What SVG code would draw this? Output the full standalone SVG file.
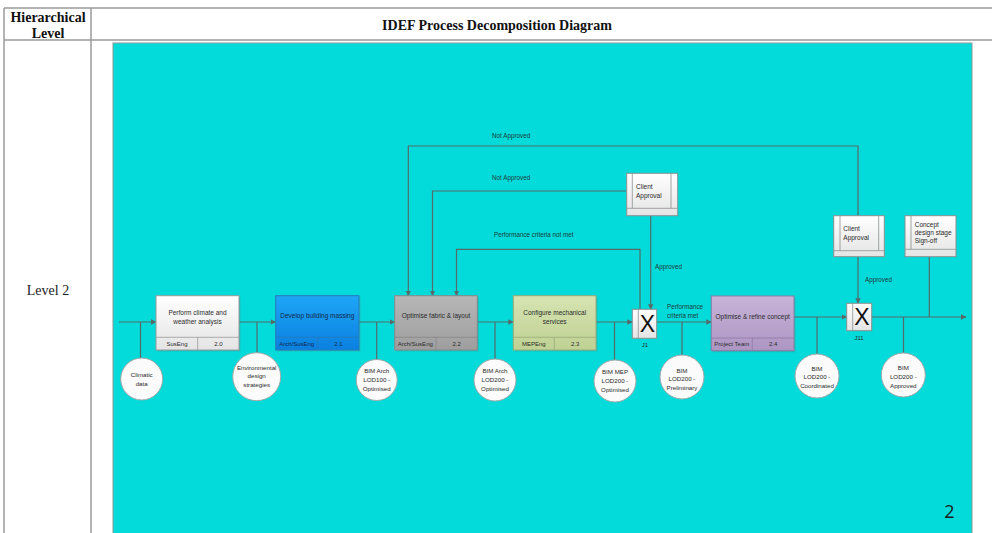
<svg xmlns="http://www.w3.org/2000/svg" width="992" height="533" viewBox="0 0 992 533">
<style>
.tbl{stroke:#9a9a9a;stroke-width:1.5;fill:none}
.hdr{font-family:"Liberation Serif","Times New Roman",serif;font-weight:bold;font-size:14px;fill:#111;text-anchor:middle}
.lvl{font-family:"Liberation Serif","Times New Roman",serif;font-size:14px;fill:#222;text-anchor:middle}
.t{font-family:"Liberation Sans",Arial,sans-serif;font-size:6.5px;fill:#2a2a2a}
.tc{font-family:"Liberation Sans",Arial,sans-serif;font-size:6.5px;fill:#2a2a2a;text-anchor:middle}
.cc{font-family:"Liberation Sans",Arial,sans-serif;font-size:6.2px;fill:#2a2a2a;text-anchor:middle}
.ts{font-family:"Liberation Sans",Arial,sans-serif;font-size:6px;fill:#2a2a2a;text-anchor:middle}
.lbl{font-family:"Liberation Sans",Arial,sans-serif;font-size:6.3px;fill:#1e3a3a}
.con{stroke:#566a6a;stroke-width:1.2;fill:none}
.arr{stroke:#566a6a;stroke-width:1.2;fill:none;marker-end:url(#ah)}
.circ{fill:#fbfbfb;stroke:#a0a8a8;stroke-width:1}
.shd{fill:#4a8a8a;opacity:.35}
.div{stroke-width:0.8}
.jbox{fill:url(#gW);stroke:#8a9090;stroke-width:1}
.xl{font-family:"Liberation Sans",Arial,sans-serif;font-size:23px;fill:#111;text-anchor:middle}
</style>
<defs>
<marker id="ah" markerWidth="6" markerHeight="6" refX="5" refY="3" orient="auto" markerUnits="userSpaceOnUse">
<path d="M0,0.3 L5.5,3 L0,5.7 Z" fill="#566a6a"/>
</marker>
<linearGradient id="gW" x1="0" y1="0" x2="0" y2="1"><stop offset="0" stop-color="#ffffff"/><stop offset="1" stop-color="#e4e4e4"/></linearGradient>
<linearGradient id="gB" x1="0" y1="0" x2="0" y2="1"><stop offset="0" stop-color="#1ea6f6"/><stop offset="1" stop-color="#0a80e0"/></linearGradient>
<linearGradient id="gG" x1="0" y1="0" x2="0" y2="1"><stop offset="0" stop-color="#b6b6b6"/><stop offset="1" stop-color="#9e9e9e"/></linearGradient>
<linearGradient id="gL" x1="0" y1="0" x2="0" y2="1"><stop offset="0" stop-color="#d6e4b2"/><stop offset="1" stop-color="#bfd193"/></linearGradient>
<linearGradient id="gP" x1="0" y1="0" x2="0" y2="1"><stop offset="0" stop-color="#c8b4d8"/><stop offset="1" stop-color="#ad95c3"/></linearGradient>
</defs>
<rect x="0" y="0" width="992" height="533" fill="#ffffff"/>
<g id="table">
<line class="tbl" x1="4" y1="8" x2="992" y2="8"/>
<line class="tbl" x1="4" y1="40" x2="992" y2="40"/>
<line class="tbl" x1="4" y1="8" x2="4" y2="533"/>
<line class="tbl" x1="91" y1="8" x2="91" y2="533"/>
<text class="hdr" x="48" y="22">Hierarchical</text>
<text class="hdr" x="48" y="38">Level</text>
<text class="hdr" x="497" y="30">IDEF Process Decomposition Diagram</text>
<text class="lvl" x="48" y="295">Level 2</text>
</g>
<rect id="panel" x="113" y="43" width="859" height="495" fill="#02dbd9" stroke="#8a9a9a" stroke-width="1"/>
<g id="connectors">
<line class="arr" x1="119" y1="322" x2="156" y2="322"/>
<line class="arr" x1="239" y1="322" x2="275.7" y2="322"/>
<line class="arr" x1="359" y1="322" x2="394.7" y2="322"/>
<line class="arr" x1="477.3" y1="322" x2="513.3" y2="322"/>
<line class="arr" x1="596" y1="322" x2="632.3" y2="322"/>
<line class="arr" x1="656.7" y1="322" x2="711.3" y2="322"/>
<line class="arr" x1="794" y1="317" x2="846.7" y2="317"/>
<line class="arr" x1="871.7" y1="317" x2="966" y2="317"/>
<path class="arr" d="M858,215.7 V146 H408.3 V295.7"/>
<path class="arr" d="M626.7,191 H432.5 V295.7"/>
<path class="arr" d="M640,309.3 V249.3 H456.5 V295.7"/>
<path class="arr" d="M650.7,215.7 V309.3"/>
<path class="arr" d="M858,256.7 V303.3"/>
<path class="con" d="M929.3,256.7 V317"/>
<line class="con" x1="140.5" y1="322" x2="140.5" y2="358"/>
<line class="con" x1="257" y1="322" x2="257" y2="352.7"/>
<line class="con" x1="376.7" y1="322" x2="376.7" y2="359.5"/>
<line class="con" x1="495" y1="322" x2="495" y2="359"/>
<line class="con" x1="614.5" y1="322" x2="614.5" y2="360"/>
<line class="con" x1="682" y1="322" x2="682" y2="355"/>
<line class="con" x1="817" y1="317" x2="817" y2="354"/>
<line class="con" x1="903.5" y1="317" x2="903.5" y2="353"/>
<text class="lbl" x="492" y="138">Not Approved</text>
<text class="lbl" x="492" y="180">Not Approved</text>
<text class="lbl" x="494" y="236.5">Performance criteria not met</text>
<text class="lbl" x="655" y="269">Approved</text>
<text class="lbl" x="865" y="282">Approved</text>
<text class="lbl" x="667" y="309">Performance</text>
<text class="lbl" x="667" y="317.5">criteria met</text>
</g>
<g id="box20">
<rect class="shd" x="157.5" y="297.2" width="83" height="54.3"/>
<rect x="156" y="295.7" width="83" height="54.3" fill="url(#gW)" stroke="#9a9a9a" stroke-width="1"/>
<line x1="156" y1="337.3" x2="239" y2="337.3" stroke="#9a9a9a" class="div"/>
<line x1="197.7" y1="337.3" x2="197.7" y2="350" stroke="#9a9a9a" class="div"/>
<text class="tc" x="197.5" y="314.5">Perform climate and</text>
<text class="tc" x="197.5" y="323.5">weather analysis</text>
<text class="ts" x="177" y="345.6">SusEng</text>
<text class="ts" x="218.3" y="345.6">2.0</text>
</g>
<g id="box21">
<rect class="shd" x="277.2" y="297.2" width="83.3" height="54.3"/>
<rect x="275.7" y="295.7" width="83.3" height="54.3" fill="url(#gB)" stroke="#2a78b8" stroke-width="1"/>
<line x1="275.7" y1="337.3" x2="359" y2="337.3" stroke="#2a78b8" class="div"/>
<line x1="317.7" y1="337.3" x2="317.7" y2="350" stroke="#2a78b8" class="div"/>
<text class="tc" x="317.3" y="318.2" style="fill:#13284a">Develop building massing</text>
<text class="ts" x="296.7" y="345.6" style="fill:#13284a">Arch/SusEng</text>
<text class="ts" x="338.3" y="345.6" style="fill:#13284a">2.1</text>
</g>
<g id="box22">
<rect class="shd" x="396.2" y="297.2" width="82.6" height="54.3"/>
<rect x="394.7" y="295.7" width="82.6" height="54.3" fill="url(#gG)" stroke="#888" stroke-width="1"/>
<line x1="394.7" y1="337.3" x2="477.3" y2="337.3" stroke="#888" class="div"/>
<line x1="436" y1="337.3" x2="436" y2="350" stroke="#888" class="div"/>
<text class="tc" x="436" y="318.2">Optimise fabric &amp; layout</text>
<text class="ts" x="415.3" y="345.6">Arch/SusEng</text>
<text class="ts" x="456.7" y="345.6">2.2</text>
</g>
<g id="box23">
<rect class="shd" x="514.8" y="297.2" width="82.7" height="54.3"/>
<rect x="513.3" y="295.7" width="82.7" height="54.3" fill="url(#gL)" stroke="#9aab78" stroke-width="1"/>
<line x1="513.3" y1="337.3" x2="596" y2="337.3" stroke="#9aab78" class="div"/>
<line x1="554.3" y1="337.3" x2="554.3" y2="350" stroke="#9aab78" class="div"/>
<text class="tc" x="554.7" y="314.5">Configure mechanical</text>
<text class="tc" x="554.7" y="323.5">services</text>
<text class="ts" x="533.8" y="345.6">MEPEng</text>
<text class="ts" x="575.2" y="345.6">2.3</text>
</g>
<g id="box24">
<rect class="shd" x="712.8" y="297.5" width="82.7" height="54.7"/>
<rect x="711.3" y="296" width="82.7" height="54.7" fill="url(#gP)" stroke="#8f7aa3" stroke-width="1"/>
<line x1="711.3" y1="338" x2="794" y2="338" stroke="#8f7aa3" class="div"/>
<line x1="752.3" y1="338" x2="752.3" y2="350.7" stroke="#8f7aa3" class="div"/>
<text class="tc" x="752.7" y="319.2">Optimise &amp; refine concept</text>
<text class="ts" x="731.8" y="346.3">Project Team</text>
<text class="ts" x="773.2" y="346.3">2.4</text>
</g>
<g id="J1">
<rect class="jbox" x="632.3" y="309.3" width="24.4" height="29"/>
<line x1="638.3" y1="309.3" x2="638.3" y2="338.3" stroke="#8a9090" stroke-width="0.8"/>
<text class="xl" x="647.5" y="332">X</text>
<text class="ts" x="645" y="346.5">J1</text>
</g>
<g id="J11">
<rect class="jbox" x="846.7" y="303.3" width="25" height="27.4"/>
<line x1="852.7" y1="303.3" x2="852.7" y2="330.7" stroke="#8a9090" stroke-width="0.8"/>
<text class="xl" x="862" y="325.3">X</text>
<text class="ts" x="859" y="339.8">J11</text>
</g>
<g id="clientApproval1">
<rect class="jbox" x="626.7" y="173.3" width="51" height="42.4"/>
<line x1="626.7" y1="208.3" x2="677.7" y2="208.3" stroke="#8a9090" stroke-width="0.8"/>
<line x1="632.3" y1="173.3" x2="632.3" y2="208.3" stroke="#8a9090" stroke-width="0.8"/>
<line x1="671" y1="173.3" x2="671" y2="208.3" stroke="#8a9090" stroke-width="0.8"/>
<text class="t" x="636" y="188.9">Client</text>
<text class="t" x="636" y="197.5">Approval</text>
</g>
<g id="clientApproval2">
<rect class="jbox" x="833.7" y="215.7" width="50.6" height="41"/>
<line x1="833.7" y1="250.7" x2="884.3" y2="250.7" stroke="#8a9090" stroke-width="0.8"/>
<line x1="840" y1="215.7" x2="840" y2="250.7" stroke="#8a9090" stroke-width="0.8"/>
<line x1="878.7" y1="215.7" x2="878.7" y2="250.7" stroke="#8a9090" stroke-width="0.8"/>
<text class="t" x="843.3" y="230.9">Client</text>
<text class="t" x="843.3" y="239.5">Approval</text>
</g>
<g id="signoff">
<rect class="jbox" x="905" y="215.7" width="51" height="41"/>
<line x1="905" y1="249.3" x2="956" y2="249.3" stroke="#8a9090" stroke-width="0.8"/>
<line x1="911" y1="215.7" x2="911" y2="249.3" stroke="#8a9090" stroke-width="0.8"/>
<text class="t" x="914.7" y="226.5">Concept</text>
<text class="t" x="914.7" y="234.9">design stage</text>
<text class="t" x="914.7" y="243.2">Sign-off</text>
</g>
<g id="cClimatic">
<circle class="circ" cx="141.7" cy="379" r="21"/>
<text class="cc" x="141.7" y="376.5">Climatic</text>
<text class="cc" x="141.7" y="385.5">data</text>
</g>
<g id="cEnv">
<circle class="circ" cx="256.7" cy="376.7" r="24"/>
<text class="cc" x="256.7" y="369.5">Environmental</text>
<text class="cc" x="256.7" y="378.3">design</text>
<text class="cc" x="256.7" y="387">strategies</text>
</g>
<g id="cLOD100">
<circle class="circ" cx="376.7" cy="380" r="20.5"/>
<text class="cc" x="376.7" y="373.2">BIM Arch</text>
<text class="cc" x="376.7" y="382">LOD100 -</text>
<text class="cc" x="376.7" y="390.8">Optimised</text>
</g>
<g id="cLOD200Arch">
<circle class="circ" cx="495" cy="380" r="21"/>
<text class="cc" x="495" y="373.2">BIM Arch</text>
<text class="cc" x="495" y="382">LOD200 -</text>
<text class="cc" x="495" y="390.8">Optimised</text>
</g>
<g id="cMEP">
<circle class="circ" cx="615" cy="381" r="21"/>
<text class="cc" x="615" y="374.2">BIM MEP</text>
<text class="cc" x="615" y="383">LOD200 -</text>
<text class="cc" x="615" y="391.8">Optimised</text>
</g>
<g id="cPrelim">
<circle class="circ" cx="682" cy="377" r="22"/>
<text class="cc" x="682" y="372.5">BIM</text>
<text class="cc" x="682" y="381.3">LOD200 -</text>
<text class="cc" x="682" y="390">Preliminary</text>
</g>
<g id="cCoord">
<circle class="circ" cx="817" cy="376" r="22"/>
<text class="cc" x="817" y="370.5">BIM</text>
<text class="cc" x="817" y="379.3">LOD200 -</text>
<text class="cc" x="817" y="388">Coordinated</text>
</g>
<g id="cApproved">
<circle class="circ" cx="903.3" cy="375" r="22"/>
<text class="cc" x="903.3" y="370">BIM</text>
<text class="cc" x="903.3" y="378.8">LOD200 -</text>
<text class="cc" x="903.3" y="387.5">Approved</text>
</g>
<text x="949.5" y="518" font-family="'Open Sans','Liberation Sans',sans-serif" font-size="18" fill="#1a1a1a" text-anchor="middle">2</text>
</svg>
